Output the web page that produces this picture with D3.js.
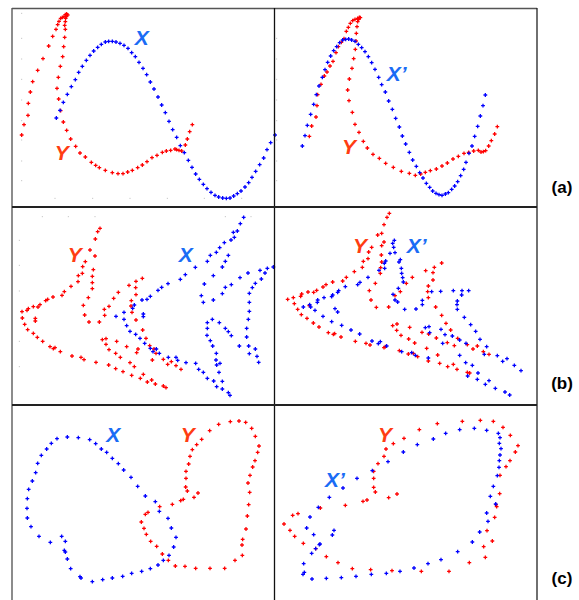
<!DOCTYPE html>
<html>
<head>
<meta charset="utf-8">
<script src="https://cdn.jsdelivr.net/npm/d3@7"></script>
<style>
  body { margin: 0; background: #fff; }
  svg { display: block; }
</style>
</head>
<body>
<svg id="chart" width="579" height="600"></svg>
<script>
// point traces (units: arbitrary sketch units per panel)
var aX = [[169,354],[180,331],[190,307],[202,283],[214,260],[226,239],[236,217],[247,199],[259,181],[270,166],[281,153],[293,142],[304,133],[316,126],[326,124],[337,124],[348,126],[360,130],[372,136],[384,145],[395,158],[406,170],[417,187],[429,205],[440,224],[451,246],[462,267],[474,291],[485,315],[496,338],[507,364],[518,389],[530,412],[541,437],[553,458],[565,481],[576,502],[587,522],[598,538],[610,553],[621,566],[633,577],[645,586],[656,591],[668,594],[679,595],[690,594],[701,588],[712,581],[723,573],[735,561],[746,548],[756,532],[767,514],[779,494],[791,474],[801,449],[812,428],[825,405]];
var aY = [[65,405],[72,374],[84,346],[85,310],[91,276],[98,245],[113,211],[129,176],[146,138],[158,109],[168,88],[173,74],[177,64],[182,55],[187,52],[192,50],[196,44],[200,42],[203,45],[199,50],[197,55],[196,65],[194,76],[196,88],[194,112],[191,140],[188,170],[181,199],[175,232],[171,265],[176,297],[182,332],[190,366],[200,391],[212,417],[227,439],[240,459],[256,471],[274,487],[287,496],[298,503],[316,511],[337,518],[354,521],[369,521],[383,516],[397,511],[413,503],[427,495],[441,485],[456,473],[471,466],[487,457],[499,453],[512,451],[525,447],[530,449],[537,451],[545,453],[556,435],[562,417],[569,395],[577,374]];
var aXp = [[112,438],[120,407],[127,376],[137,343],[146,313],[154,284],[162,258],[172,232],[180,209],[188,187],[197,168],[206,152],[215,140],[224,128],[233,120],[242,118],[251,117],[260,120],[270,124],[280,133],[290,143],[300,155],[310,170],[320,188],[330,208],[341,232],[350,254],[361,276],[371,303],[382,328],[392,355],[403,381],[412,408],[422,432],[433,457],[443,480],[454,499],[464,518],[474,534],[484,550],[494,562],[503,573],[513,580],[522,584],[531,586],[541,582],[550,578],[560,568],[569,558],[578,545],[587,527],[596,508],[603,487],[612,460],[621,438],[629,409],[638,379],[646,348],[654,317],[661,285]];
var aYp = [[133,409],[140,378],[153,351],[156,317],[158,284],[168,253],[178,228],[186,216],[195,198],[204,184],[213,158],[220,140],[229,127],[237,116],[244,94],[250,82],[256,70],[263,62],[270,58],[278,55],[283,52],[286,53],[281,58],[278,65],[276,80],[274,100],[273,123],[271,148],[266,176],[261,205],[253,237],[248,270],[252,302],[262,337],[270,373],[282,397],[295,424],[307,444],[324,463],[343,475],[362,490],[385,502],[409,514],[433,520],[451,526],[467,522],[481,517],[496,512],[514,507],[531,498],[547,489],[564,477],[580,469],[597,460],[611,457],[626,453],[640,451],[648,456],[655,455],[662,452],[671,438],[679,422],[689,402],[697,380]];

var bX = [[348,349],[372,337],[372,358],[380,377],[390,394],[407,403],[420,415],[434,430],[451,445],[459,455],[469,447],[478,460],[505,472],[528,472],[533,481],[558,488],[587,490],[596,508],[610,517],[622,535],[641,543],[650,560],[667,567],[685,578],[690,586],[667,544],[657,517],[650,495],[660,490],[648,480],[649,460],[638,438],[631,422],[621,406],[622,385],[622,368],[637,358],[658,368],[676,385],[685,395],[694,407],[718,438],[740,411],[740,385],[745,358],[748,334],[748,307],[748,280],[757,263],[766,250],[784,237],[795,219],[802,205],[820,201],[780,211],[744,219],[720,233],[403,315],[398,325],[426,300],[441,298],[451,289],[474,271],[485,262],[504,251],[541,238],[556,224],[586,202],[622,184],[631,166],[649,157],[659,143],[673,128],[693,120],[703,112],[700,97],[712,93],[721,71],[731,52],[430,342],[430,350],[685,166],[676,184],[667,201],[640,227],[613,252],[604,287],[610,307],[640,300],[667,281],[676,262],[694,254],[746,438],[748,461],[766,447],[771,469],[776,487]];
var bY = [[300,85],[293,95],[286,117],[270,150],[256,185],[248,200],[247,220],[235,227],[234,245],[213,259],[193,275],[186,286],[159,291],[143,298],[137,302],[120,314],[114,321],[100,320],[85,326],[81,331],[66,335],[67,354],[74,373],[83,389],[100,400],[112,412],[128,424],[150,440],[160,446],[165,443],[181,455],[216,468],[243,472],[252,479],[288,487],[106,355],[106,363],[285,168],[280,209],[277,229],[277,248],[277,266],[265,293],[250,316],[254,345],[267,366],[298,366],[427,235],[408,244],[387,256],[407,263],[355,277],[341,295],[327,319],[313,328],[314,346],[408,284],[394,302],[393,318],[396,337],[408,360],[428,390],[438,415],[449,437],[462,447],[468,460],[457,480],[490,478],[503,493],[514,485],[528,497],[543,508],[307,419],[318,416],[350,424],[318,433],[327,449],[347,460],[361,472],[380,440],[414,447],[410,458],[390,488],[403,500],[430,523],[395,526],[421,535],[442,546],[455,540],[466,552],[490,558],[498,563],[326,495],[347,506],[369,515]];
var bXp = [[388,121],[383,130],[386,142],[375,160],[390,158],[362,183],[358,190],[342,211],[359,205],[309,232],[285,247],[278,254],[241,260],[221,272],[218,277],[203,285],[200,290],[177,293],[158,300],[157,307],[134,314],[137,321],[115,321],[150,331],[210,326],[218,336],[174,349],[200,365],[230,376],[258,390],[284,402],[321,423],[340,431],[346,425],[365,438],[406,179],[402,186],[409,205],[410,220],[413,233],[415,246],[400,265],[384,283],[390,300],[398,306],[419,328],[453,327],[472,314],[472,301],[500,275],[527,274],[565,272],[591,272],[611,272],[590,285],[577,303],[576,314],[577,328],[598,352],[617,374],[632,394],[645,418],[665,440],[697,467],[713,484],[726,476],[748,496],[768,512],[481,383],[492,380],[494,398],[528,388],[540,404],[562,408],[584,420],[603,430],[658,463],[533,430],[584,466],[602,488],[622,496],[639,519],[637,538],[661,553],[672,542],[691,565],[720,576],[734,585],[410,455],[440,458],[451,466],[490,474],[608,528]];
var bYp = [[373,40],[366,52],[357,74],[350,100],[338,105],[357,126],[350,137],[320,142],[311,156],[309,176],[295,184],[292,202],[268,215],[244,232],[233,243],[203,246],[183,254],[174,261],[155,271],[146,277],[129,276],[110,282],[107,289],[85,293],[68,298],[88,311],[98,328],[109,344],[126,355],[145,369],[162,381],[190,398],[205,403],[209,401],[228,411],[271,424],[303,430],[315,435],[357,443],[361,440],[349,165],[350,186],[347,203],[346,220],[331,250],[313,272],[318,300],[334,322],[371,321],[390,287],[406,275],[424,250],[442,232],[482,212],[508,202],[530,189],[504,218],[504,240],[490,258],[488,275],[490,293],[512,321],[530,346],[543,370],[557,390],[578,415],[607,434],[624,447],[637,438],[655,455],[672,463],[383,377],[396,372],[395,391],[408,406],[431,417],[434,382],[449,429],[471,397],[485,445],[490,483],[491,402],[518,465],[514,414],[524,490],[548,500],[547,428],[565,493],[568,437],[576,508],[607,517],[614,519],[403,452],[430,462],[445,460],[458,470],[133,317]];

var cX = [[490,487],[474,501],[451,512],[425,520],[395,526],[368,535],[337,540],[308,545],[277,551],[243,540],[240,536],[212,512],[202,483],[196,462],[193,457],[196,430],[185,415],[151,433],[117,415],[93,386],[82,360],[81,331],[82,302],[86,274],[97,249],[107,224],[113,196],[124,172],[140,153],[154,136],[171,122],[202,117],[235,119],[269,125],[287,137],[304,153],[320,163],[337,181],[355,197],[371,216],[393,238],[413,265],[436,294],[466,311],[478,340],[504,361],[514,390],[528,418],[521,447],[507,472]];
var cY = [[505,487],[487,468],[470,445],[452,430],[439,409],[432,391],[424,372],[436,349],[444,343],[479,326],[517,319],[542,308],[550,304],[582,298],[594,285],[562,279],[557,267],[558,241],[558,220],[566,198],[570,175],[577,155],[590,140],[605,124],[629,98],[656,79],[691,71],[717,69],[737,73],[755,91],[766,115],[777,144],[773,163],[765,188],[758,207],[750,232],[744,255],[749,283],[746,320],[742,354],[738,393],[728,424],[726,441],[727,472],[705,487],[674,511],[630,511],[587,511],[555,505],[526,504]];
var cXp = [[193,298],[160,328],[135,357],[125,390],[146,410],[163,440],[165,438],[152,452],[140,466],[116,497],[118,523],[114,529],[141,543],[184,541],[229,539],[273,535],[319,529],[364,526],[405,520],[447,510],[489,497],[528,485],[578,461],[622,432],[644,402],[669,370],[665,345],[692,318],[676,295],[685,265],[697,233],[702,208],[703,188],[705,171],[708,152],[703,136],[705,119],[700,106],[665,97],[628,91],[584,95],[542,106],[505,123],[457,140],[415,162],[369,191],[322,218],[276,241],[234,270],[207,397],[202,411]];
var cYp = [[385,137],[363,153],[357,175],[339,197],[326,220],[326,241],[326,268],[331,282],[306,306],[294,310],[241,322],[166,330],[99,347],[83,352],[57,378],[75,397],[89,415],[115,436],[152,452],[184,476],[219,494],[262,512],[317,515],[381,518],[469,520],[552,520],[613,494],[661,478],[656,446],[682,429],[666,398],[689,358],[695,326],[693,320],[704,287],[705,232],[723,206],[735,188],[751,162],[759,143],[736,112],[714,88],[685,70],[646,67],[592,70],[517,77],[463,95],[417,121],[371,299],[396,288]];

// faint tick marks left over from the original plot frames (same units)
var aLeftTicks = [40, 115, 177, 238, 300, 362, 420, 483, 542];
var aBottomTicks = [165, 278, 390, 502, 613, 725];
var bTopTicks = [127, 205, 285, 676, 753];
var bLeftTicks = [121, 196, 273, 424, 500];

var rowLabels = ["(a)", "(b)", "(c)"];

// each panel: its two traces and where the names sit (same units as the traces)
var panels = [
  {row: 0, col: 0, xDom: [36, 822], yDom: [24, 621], blue: aX,  red: aY,  names: [["X", 425, 112], ["Y", 185, 458]]},
  {row: 0, col: 1, xDom: [27, 816], yDom: [24, 621], blue: aXp, red: aYp, names: [["X\u2019", 395, 220], ["Y", 252, 438]]},
  {row: 1, col: 0, xDom: [36, 822], yDom: [21, 615], blue: bX,  red: bY,  names: [["X", 557, 162], ["Y", 224, 162]]},
  {row: 1, col: 1, xDom: [27, 816], yDom: [21, 615], blue: bXp, red: bYp, names: [["X\u2019", 455, 135], ["Y", 285, 135]]},
  {row: 2, col: 0, xDom: [36, 822], yDom: [21, 606], blue: cX,  red: cY,  names: [["X", 340, 110], ["Y", 563, 110]]},
  {row: 2, col: 1, xDom: [27, 816], yDom: [21, 606], blue: cXp, red: cYp, names: [["X\u2019", 210, 245], ["Y", 360, 108]]}
];

var colEdges = [12, 274, 537];
var rowEdges = [8, 207, 405, 600];

var svg = d3.select("#chart");
var cross = d3.symbol().type(d3.symbolCross).size(8);

function tickDots(g, pts, x, y) {
  g.selectAll(null)
    .data(pts)
    .enter().append("rect")
    .attr("x", function(d) { return x(d[0]) - 0.5; })
    .attr("y", function(d) { return y(d[1]) - 0.5; })
    .attr("width", 1).attr("height", 1)
    .style("fill", "#bbb");
}

panels.forEach(function(p, i) {
  var x0 = colEdges[p.col], x1 = colEdges[p.col + 1];
  var y0 = rowEdges[p.row], y1 = rowEdges[p.row + 1];
  var x = d3.scaleLinear().domain(p.xDom).range([x0, x1]);
  var y = d3.scaleLinear().domain(p.yDom).range([y0, y1]);

  var g = svg.append("g");

  if (i == 0) {
    tickDots(g, aLeftTicks.map(function(t) { return [65, t]; }), x, y);
    tickDots(g, aBottomTicks.map(function(t) { return [t, 595]; }), x, y);
  }
  if (i == 1) {
    tickDots(g, aLeftTicks.slice(1).map(function(t) { return [35, t]; }), x, y);
  }
  if (i == 2) {
    tickDots(g, bTopTicks.map(function(t) { return [t, 50]; }), x, y);
    tickDots(g, bLeftTicks.map(function(t) { return [58, t]; }), x, y);
  }

  g.selectAll("path.r")
    .data(p.red)
    .enter().append("path")
    .attr("transform", function(d) { return "translate(" + x(d[0]) + "," + y(d[1]) + ")"; })
    .attr("d", cross)
    .style("fill", "#ff0000");

  g.selectAll("path.b")
    .data(p.blue)
    .enter().append("path")
    .attr("transform", function(d) { return "translate(" + x(d[0]) + "," + y(d[1]) + ")"; })
    .attr("d", cross)
    .style("fill", "#0000ff");

  g.selectAll("text")
    .data(p.names)
    .enter().append("text")
    .attr("x", function(d) { return x(d[1]); })
    .attr("y", function(d) { return y(d[2]); })
    .attr("dy", "0.36em")
    .attr("text-anchor", "middle")
    .style("font-family", "Liberation Sans, Arial, sans-serif")
    .style("font-weight", "bold")
    .style("font-style", "italic")
    .style("font-size", "21px")
    .style("fill", function(d) { return d[0] == "Y" ? "#ff3d12" : "#1a6cf5"; })
    .text(function(d) { return d[0]; });
});

// frame
svg.append("line").attr("x1", 12).attr("x2", 12).attr("y1", 8).attr("y2", 600)
  .style("stroke", "#666").style("stroke-width", 1.5);
svg.append("line").attr("x1", 12).attr("x2", 537).attr("y1", 8.5).attr("y2", 8.5)
  .style("stroke", "#555").style("stroke-width", 1.5);
svg.append("line").attr("x1", 274.5).attr("x2", 274.5).attr("y1", 8).attr("y2", 600)
  .style("stroke", "#111").style("stroke-width", 1.3);
svg.append("line").attr("x1", 537).attr("x2", 537).attr("y1", 8).attr("y2", 600)
  .style("stroke", "#222").style("stroke-width", 1.3);
[207, 405].forEach(function(yy) {
  svg.append("line").attr("x1", 12).attr("x2", 537).attr("y1", yy).attr("y2", yy)
    .style("stroke", "#222").style("stroke-width", 2);
});

svg.selectAll("text.row")
  .data(rowLabels)
  .enter().append("text")
  .attr("class", "row")
  .attr("x", 562)
  .attr("y", function(d, i) { return [187, 383, 578][i]; })
  .attr("dy", "0.36em")
  .attr("text-anchor", "middle")
  .style("font-family", "Liberation Sans, Arial, sans-serif")
  .style("font-weight", "bold")
  .style("font-size", "17px")
  .text(function(d) { return d; });
</script>
</body>
</html>
